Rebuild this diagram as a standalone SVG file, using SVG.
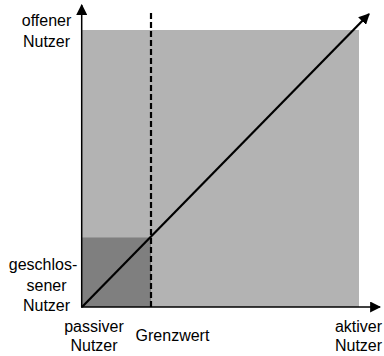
<svg xmlns="http://www.w3.org/2000/svg" width="384" height="356" viewBox="0 0 384 356">
<style>
text{font-family:"Liberation Sans",Arial,sans-serif;font-size:16px;fill:#000;text-anchor:middle}
.ax{stroke:#000;stroke-width:1.5;fill:none}
</style>
<defs>
<marker id="ah" viewBox="0 0 10 10" refX="9" refY="5" markerWidth="11" markerHeight="11" markerUnits="userSpaceOnUse" orient="auto"><path d="M0,0L10,5L0,10z" fill="#000"/></marker>
</defs>
<rect width="384" height="356" fill="#fff"/>
<g id="region-open"><rect x="82" y="30" width="277" height="277" fill="#b3b3b3"/></g>
<g id="region-closed"><rect x="82" y="237.5" width="69" height="69.5" fill="#7f7f7f"/></g>
<g id="connectors">
<line class="ax" x1="81.7" y1="307.5" x2="81.7" y2="5" marker-end="url(#ah)"/>
<line class="ax" x1="81" y1="307" x2="380" y2="307" marker-end="url(#ah)"/>
<line x1="151" y1="13" x2="151" y2="307" stroke="#000" stroke-width="2.2" stroke-dasharray="6 3"/>
<line x1="82" y1="307" x2="369" y2="14" stroke="#000" stroke-width="2.2" marker-end="url(#ah)"/>
</g>
<g id="label-offen"><text x="46.5" y="26">offener</text><text x="46.5" y="47">Nutzer</text></g>
<g id="label-geschlossen"><text x="43" y="270">geschlos-</text><text x="46.5" y="290.7">sener</text><text x="46.5" y="311">Nutzer</text></g>
<g id="label-passiv"><text x="94" y="331.7">passiver</text><text x="94" y="350.7">Nutzer</text></g>
<g id="label-grenzwert"><text x="172.5" y="340.7">Grenzwert</text></g>
<g id="label-aktiv"><text x="358.5" y="331.7">aktiver</text><text x="358.5" y="350.7">Nutzer</text></g>
</svg>
